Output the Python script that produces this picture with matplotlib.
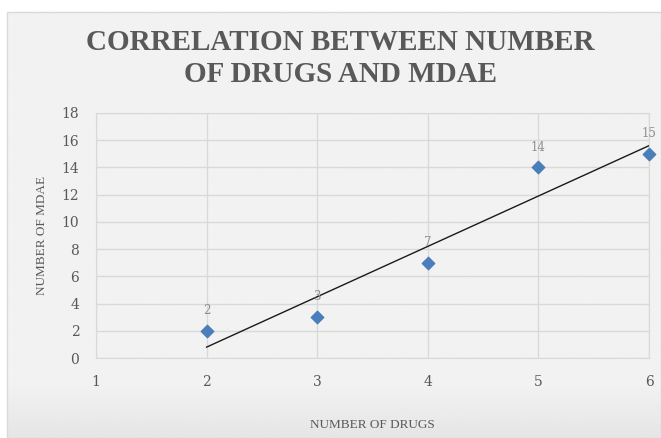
import matplotlib.pyplot as plt
import numpy as np
from matplotlib.patches import Rectangle

# data
num_drugs = [2, 3, 4, 5, 6]
num_mdae = [2, 3, 7, 14, 15]
x_ticks = [1, 2, 3, 4, 5, 6]
y_ticks = list(range(0, 19, 2))

W, H = 661, 438
fig = plt.figure(figsize=(W / 100, H / 100), dpi=100)
fig.patch.set_facecolor('white')

# chart area background with a soft gradient at the bottom
bg = fig.add_axes([7 / W, 0, 1 - 7 / W, 1 - 12 / H], zorder=0)
grad = np.ones((200, 1))
rows = np.linspace(0, 1, 200)
grad[:, 0] = np.where(rows < 0.87, 0.949, 0.949 - (rows - 0.87) / 0.13 * 0.05)
bg.imshow(grad, aspect='auto', cmap='gray', vmin=0, vmax=1,
          extent=[0, 1, 0, 1], origin='upper')
bg.set_xlim(0, 1)
bg.set_ylim(0, 1)
bg.axis('off')
fig.add_artist(Rectangle((7 / W, 0), 1 - 7 / W, 1 - 12 / H,
                         transform=fig.transFigure, fill=False,
                         edgecolor='#d9d9d9', linewidth=1, zorder=1))

# plot area
x0, x1 = 96, 649
y0, y1 = 358, 113
ax = fig.add_axes([x0 / W, 1 - y0 / H, (x1 - x0) / W, (y0 - y1) / H], zorder=2)
ax.set_facecolor('none')

ax.set_xlim(1, 6)
ax.set_ylim(0, 18)
ax.set_xticks(x_ticks)
ax.set_yticks(y_ticks)
ax.grid(True, color='#d9d9d9', linewidth=1)
ax.set_axisbelow(True)
for s in ax.spines.values():
    s.set_color('#d9d9d9')
ax.tick_params(length=0, colors='#595959', labelsize=10, pad=12)
for lab in ax.get_xticklabels() + ax.get_yticklabels():
    lab.set_fontfamily('DejaVu Serif')

# trendline (linear fit)
coef = np.polyfit(num_drugs, num_mdae, 1)
xs = np.array([min(num_drugs), max(num_drugs)])
ax.plot(xs, np.polyval(coef, xs), color='#1a1a1a', linewidth=1, zorder=3)

ax.scatter(num_drugs, num_mdae, marker='D', s=40, color='#4a7ebb',
           zorder=4, clip_on=False)
for x, y in zip(num_drugs, num_mdae):
    ax.annotate(str(y), (x, y), xytext=(0, 10), textcoords='offset points',
                ha='center', va='bottom', fontsize=8.5, color='#8c8c8c',
                family='DejaVu Serif')

ax.set_xlabel('NUMBER OF DRUGS', family='Liberation Serif', fontsize=9.5,
              color='#595959', labelpad=22)
ax.set_ylabel('NUMBER OF MDAE', family='Liberation Serif', fontsize=9.5,
              color='#595959', labelpad=10)

fig.text(340 / W, 1 - 42 / H, 'CORRELATION BETWEEN NUMBER',
         ha='center', va='center', fontsize=21, fontweight='bold',
         family='Liberation Serif', color='#595959')
fig.text(340 / W, 1 - 75 / H, 'OF DRUGS AND MDAE',
         ha='center', va='center', fontsize=21, fontweight='bold',
         family='Liberation Serif', color='#595959')

fig.savefig('out.png', dpi=100)
